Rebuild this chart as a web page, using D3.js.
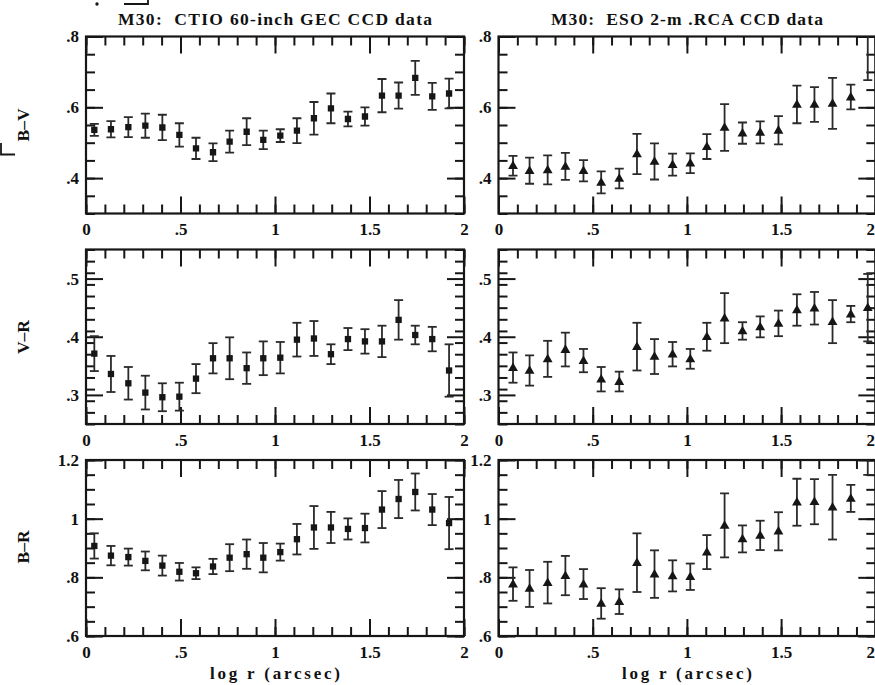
<!DOCTYPE html>
<html>
<head>
<meta charset="utf-8">
<script src="https://cdn.jsdelivr.net/npm/d3@7"></script>
<style>
  html, body { margin: 0; padding: 0; background: #fff; }
  svg text { font-family: "Liberation Serif", "DejaVu Serif", serif; font-weight: bold; fill: #111; }
</style>
</head>
<body>
<svg id="fig" width="875" height="685"></svg>
<script>
// ---- radial colour profiles of M30 (log r in arcsec) ----
// CTIO 60-inch GEC CCD bins
const xCTIO = [0.044, 0.132, 0.224, 0.314, 0.404, 0.494, 0.582, 0.672, 0.760, 0.850, 0.938,
               1.028, 1.116, 1.206, 1.296, 1.386, 1.476, 1.566, 1.654, 1.742, 1.832, 1.921];
const bvCTIO    = [0.536, 0.538, 0.544, 0.548, 0.543, 0.522, 0.484, 0.473, 0.503, 0.531, 0.508,
                   0.520, 0.534, 0.569, 0.597, 0.567, 0.574, 0.633, 0.633, 0.683, 0.631, 0.639];
const bvCTIOErr = [0.017, 0.023, 0.028, 0.034, 0.036, 0.033, 0.030, 0.025, 0.031, 0.038, 0.026,
                   0.018, 0.035, 0.046, 0.042, 0.021, 0.026, 0.047, 0.037, 0.048, 0.038, 0.042];
const vrCTIO    = [0.371, 0.336, 0.320, 0.304, 0.296, 0.297, 0.328, 0.363, 0.363, 0.346, 0.363,
                   0.364, 0.395, 0.397, 0.370, 0.396, 0.392, 0.392, 0.429, 0.403, 0.396, 0.342];
const vrCTIOErr = [0.030, 0.031, 0.028, 0.029, 0.024, 0.024, 0.025, 0.026, 0.036, 0.027, 0.029,
                   0.027, 0.029, 0.030, 0.017, 0.019, 0.021, 0.027, 0.034, 0.016, 0.021, 0.045];
const brCTIO    = [0.907, 0.874, 0.869, 0.856, 0.840, 0.819, 0.814, 0.837, 0.867, 0.879, 0.867,
                   0.886, 0.930, 0.970, 0.970, 0.965, 0.968, 1.031, 1.067, 1.091, 1.031, 0.985];
const brCTIOErr = [0.043, 0.033, 0.029, 0.032, 0.034, 0.030, 0.020, 0.026, 0.046, 0.050, 0.050,
                   0.029, 0.052, 0.073, 0.053, 0.036, 0.049, 0.063, 0.065, 0.063, 0.053, 0.089];

// ESO 2-m RCA CCD bins
const xESO = [0.077, 0.165, 0.261, 0.355, 0.451, 0.545, 0.641, 0.735, 0.828, 0.924, 1.018,
              1.106, 1.200, 1.295, 1.389, 1.486, 1.584, 1.677, 1.773, 1.870, 1.960];
const bvESO    = [0.435, 0.421, 0.423, 0.433, 0.421, 0.388, 0.399, 0.468, 0.447, 0.438, 0.442,
                  0.489, 0.543, 0.527, 0.529, 0.535, 0.608, 0.608, 0.611, 0.629, 0.820];
const bvESOErr = [0.028, 0.037, 0.041, 0.038, 0.030, 0.031, 0.028, 0.057, 0.051, 0.031, 0.028,
                  0.035, 0.066, 0.030, 0.031, 0.040, 0.053, 0.049, 0.072, 0.035, 0.143];
const vrESO    = [0.347, 0.342, 0.362, 0.378, 0.359, 0.327, 0.323, 0.383, 0.366, 0.370, 0.362,
                  0.400, 0.432, 0.410, 0.417, 0.423, 0.446, 0.449, 0.426, 0.439, 0.450];
const vrESOErr = [0.026, 0.026, 0.031, 0.029, 0.020, 0.021, 0.017, 0.041, 0.030, 0.021, 0.017,
                  0.024, 0.043, 0.015, 0.018, 0.022, 0.027, 0.028, 0.037, 0.014, 0.058];
const brESO    = [0.777, 0.762, 0.782, 0.806, 0.777, 0.711, 0.717, 0.850, 0.811, 0.805, 0.802,
                  0.886, 0.977, 0.931, 0.943, 0.957, 1.056, 1.058, 1.039, 1.069, 1.230];
const brESOErr = [0.057, 0.063, 0.071, 0.067, 0.051, 0.052, 0.042, 0.100, 0.081, 0.053, 0.045,
                  0.058, 0.109, 0.046, 0.050, 0.065, 0.080, 0.077, 0.110, 0.046, 0.081];

// axis ticks and labels
const xMajor = [0, 0.5, 1, 1.5, 2];
const xMajorLabels = ["0", ".5", "1", "1.5", "2"];
const bvMajor = [0.4, 0.6, 0.8], bvMajorLabels = [".4", ".6", ".8"];
const vrMajor = [0.3, 0.4, 0.5], vrMajorLabels = [".3", ".4", ".5"];
const brMajor = [0.6, 0.8, 1.0, 1.2], brMajorLabels = [".6", ".8", "1", "1.2"];

const titles = ["M30:  CTIO 60-inch GEC CCD data", "M30:  ESO 2-m .RCA CCD data"];
const rowLabels = ["B\u2013V", "V\u2013R", "B\u2013R"];
const xTitle = "log r (arcsec)";

// ---- layout ----
const W = 875;
const cols = [{x0: 86, x1: 464}, {x0: 498.5, x1: 875.3}];
const rows = [
  {y0: 36.5, y1: 213.5, domain: [0.3, 0.8],  minorStep: 0.05, major: bvMajor, labels: bvMajorLabels, labelY: 125},
  {y0: 249.5, y1: 424,  domain: [0.25, 0.55], minorStep: 0.02, major: vrMajor, labels: vrMajorLabels, labelY: 337},
  {y0: 460, y1: 636,    domain: [0.6, 1.2],   minorStep: 0.05, major: brMajor, labels: brMajorLabels, labelY: 547}
];
const series = [
  [{x: xCTIO, y: bvCTIO, e: bvCTIOErr}, {x: xESO, y: bvESO, e: bvESOErr}],
  [{x: xCTIO, y: vrCTIO, e: vrCTIOErr}, {x: xESO, y: vrESO, e: vrESOErr}],
  [{x: xCTIO, y: brCTIO, e: brCTIOErr}, {x: xESO, y: brESO, e: brESOErr}]
];

const ink = "#161616";
const numFont = "'Liberation Sans', Arial, sans-serif";
const svg = d3.select("#fig");
const majorLen = 17, minorLen = 9;

function stepTicks(lo, hi, step) {
  const out = [];
  for (let v = lo; v <= hi + 1e-9; v += step) out.push(+v.toFixed(4));
  return out;
}

rows.forEach((row, ri) => {
  cols.forEach((col, ci) => {
    const x = d3.scaleLinear().domain([0, 2]).range([col.x0, col.x1]);
    const y = d3.scaleLinear().domain(row.domain).range([row.y1, row.y0]);
    const g = svg.append("g");
    const xMinor = stepTicks(0, 2, 0.1);
    const yMinor = stepTicks(row.domain[0], row.domain[1], row.minorStep);

    const styleAxis = sel => {
      sel.select(".domain").remove();
      sel.selectAll("line").attr("stroke", ink).attr("stroke-width", 2);
    };

    // inward ticks on all four sides
    g.append("g").attr("transform", `translate(0,${row.y1})`)
      .call(d3.axisBottom(x).tickValues(xMinor).tickSize(-minorLen).tickFormat(""))
      .call(styleAxis);
    const xLab = g.append("g").attr("transform", `translate(0,${row.y1})`)
      .call(d3.axisBottom(x).tickValues(xMajor).tickSize(-majorLen).tickPadding(8)
            .tickFormat((d, i) => xMajorLabels[i]))
      .call(styleAxis)
      .selectAll("text").attr("font-size", 17).attr("fill", ink)
      .attr("font-family", numFont).attr("font-weight", "bold")
      .attr("dy", "0.82em");
    // keep the last label of the right column inside the page
    if (ci === 1) xLab.filter(d => d === 2).attr("text-anchor", "end").attr("dx", W - x(2) - 0.5);
    g.append("g").attr("transform", `translate(0,${row.y0})`)
      .call(d3.axisTop(x).tickValues(xMinor).tickSize(-minorLen).tickFormat(""))
      .call(styleAxis);
    g.append("g").attr("transform", `translate(0,${row.y0})`)
      .call(d3.axisTop(x).tickValues(xMajor).tickSize(-majorLen).tickFormat(""))
      .call(styleAxis);

    g.append("g").attr("transform", `translate(${col.x0},0)`)
      .call(d3.axisLeft(y).tickValues(yMinor).tickSize(-minorLen).tickFormat(""))
      .call(styleAxis);
    g.append("g").attr("transform", `translate(${col.x0},0)`)
      .call(d3.axisLeft(y).tickValues(row.major).tickSize(-majorLen).tickPadding(7)
            .tickFormat((d, i) => row.labels[i]))
      .call(styleAxis)
      .selectAll("text").attr("font-size", 17).attr("fill", ink)
      .attr("font-family", numFont).attr("font-weight", "bold");
    g.append("g").attr("transform", `translate(${col.x1},0)`)
      .call(d3.axisRight(y).tickValues(yMinor).tickSize(-minorLen).tickFormat(""))
      .call(styleAxis);
    g.append("g").attr("transform", `translate(${col.x1},0)`)
      .call(d3.axisRight(y).tickValues(row.major).tickSize(-majorLen).tickFormat(""))
      .call(styleAxis);

    // frame
    g.append("rect")
      .attr("x", col.x0).attr("y", row.y0)
      .attr("width", col.x1 - col.x0).attr("height", row.y1 - row.y0)
      .attr("fill", "none").attr("stroke", ink).attr("stroke-width", 2.2);

    // data, clipped to the frame
    const clipId = `clip-${ri}-${ci}`;
    svg.append("clipPath").attr("id", clipId).append("rect")
      .attr("x", col.x0).attr("y", row.y0)
      .attr("width", col.x1 - col.x0).attr("height", row.y1 - row.y0);
    const s = series[ri][ci];
    const pts = s.x.map((xv, i) => ({x: xv, y: s.y[i], e: s.e[i]}));
    const dg = g.append("g").attr("clip-path", `url(#${clipId})`);
    const capW = 4.5;
    const bars = dg.selectAll("g.bar").data(pts).join("g").attr("class", "bar");
    bars.append("line")
      .attr("x1", d => x(d.x)).attr("x2", d => x(d.x))
      .attr("y1", d => y(d.y - d.e)).attr("y2", d => y(d.y + d.e))
      .attr("stroke", "#2a2a2a").attr("stroke-width", 1.8);
    [-1, 1].forEach(sign => {
      bars.append("line")
        .attr("x1", d => x(d.x) - capW).attr("x2", d => x(d.x) + capW)
        .attr("y1", d => y(d.y + sign * d.e)).attr("y2", d => y(d.y + sign * d.e))
        .attr("stroke", "#2a2a2a").attr("stroke-width", 1.8);
    });
    const sym = ci === 0 ? d3.symbol(d3.symbolSquare, 40) : d3.symbol(d3.symbolTriangle, 42);
    bars.append("path")
      .attr("d", sym)
      .attr("transform", d => `translate(${x(d.x)},${y(d.y) + (ci === 1 ? 0.5 : 0)})`)
      .attr("fill", ink);

    // panel titles and x-axis title
    if (ri === 0) {
      const tw = ci === 0 ? 314 : 272;
      svg.append("text")
        .attr("x", x(1)).attr("y", 25)
        .attr("text-anchor", "middle").attr("font-size", 17.5)
        .attr("textLength", tw).attr("lengthAdjust", "spacing")
        .style("white-space", "pre")
        .text(titles[ci]);
    }
    if (ri === 2) {
      svg.append("text")
        .attr("x", x(1)).attr("y", 679)
        .attr("text-anchor", "middle").attr("font-size", 17)
        .attr("textLength", 130).attr("lengthAdjust", "spacing")
        .text(xTitle);
    }
  });

  // row label
  svg.append("text")
    .attr("transform", `translate(28.5,${row.labelY}) rotate(-90)`)
    .attr("text-anchor", "middle").attr("font-size", 17.5)
    .text(rowLabels[ri]);
});

// stray marks along the upper-left edge of the sheet
const stray = svg.append("g").attr("stroke", ink).attr("stroke-width", 1.8).attr("fill", "none");
stray.append("path").attr("d", "M1,143 V154.5 H15");
stray.append("path").attr("d", "M124,4 H148 V0");
stray.append("circle").attr("cx", 97).attr("cy", 4).attr("r", 0.8).attr("fill", ink);
</script>
</body>
</html>
